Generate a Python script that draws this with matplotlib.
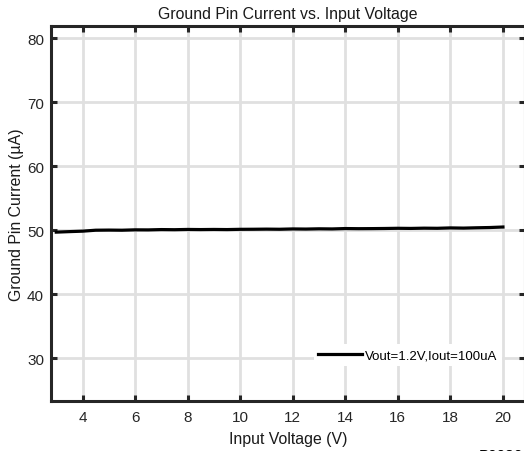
import matplotlib
matplotlib.use("Agg")
import matplotlib.pyplot as plt

plt.rcParams['font.family'] = ['Liberation Sans', 'DejaVu Sans']

# Data
vin = [3.0, 3.5, 4.0, 4.5, 5.0, 5.5, 6.0, 6.5, 7.0, 7.5, 8.0, 8.5, 9.0, 9.5, 10.0,
       10.5, 11.0, 11.5, 12.0, 12.5, 13.0, 13.5, 14.0, 14.5, 15.0, 15.5, 16.0, 16.5,
       17.0, 17.5, 18.0, 18.5, 19.0, 19.5, 20.0]
ignd = [49.70, 49.78, 49.85, 50.00, 50.02, 50.00, 50.06, 50.05, 50.10, 50.08, 50.12,
        50.10, 50.12, 50.10, 50.14, 50.15, 50.17, 50.15, 50.20, 50.18, 50.22, 50.20,
        50.26, 50.24, 50.25, 50.27, 50.30, 50.28, 50.32, 50.30, 50.36, 50.33, 50.38,
        50.42, 50.50]
series_label = "Vout=1.2V,Iout=100uA"
xticks = [4, 6, 8, 10, 12, 14, 16, 18, 20]
yticks = [30, 40, 50, 60, 70, 80]

W, H = 524, 452
fig = plt.figure(figsize=(W / 100, H / 100), dpi=100)
ax = fig.add_axes([51 / W, 1 - 401.5 / H, (525 - 51) / W, (401.5 - 27) / H])

ax.plot(vin, ignd, color='black', lw=2.3, label=series_label, zorder=3)

ax.set_xlim(2.8, 20.84)
ax.set_ylim(23.4, 81.9)
ax.set_xticks(xticks)
ax.set_yticks(yticks)
ax.grid(True, color='#e0e0e0', lw=2.0)
ax.set_axisbelow(True)
for s in ax.spines.values():
    s.set_linewidth(2.2)
    s.set_color('#262626')
ax.tick_params(direction='in', length=4, width=2.2, color='#262626',
               labelsize=11, top=True, right=True, labelcolor='#262626')
ax.tick_params(axis='x', pad=7)
ax.tick_params(axis='y', pad=5)

ax.set_title("Ground Pin Current vs. Input Voltage", fontsize=11.4, pad=5.5, color='#1a1a1a')
ax.set_xlabel("Input Voltage (V)", fontsize=11.4, labelpad=5, color='#1a1a1a')
ax.set_ylabel("Ground Pin Current (µA)", fontsize=11.4, labelpad=2.5, color='#1a1a1a')

leg = ax.legend(loc='center right', bbox_to_anchor=((502 - 51) / 474, (401.5 - 356) / 374.5),
                frameon=True, fancybox=False, edgecolor='none', facecolor='white',
                framealpha=1, fontsize=9.5, handlelength=3.3, handletextpad=0.25,
                borderpad=0.35, borderaxespad=0)

fig.text(479 / W, 1 - 449 / H, "P0036", fontsize=11, va='top', ha='left', color='black')

fig.savefig("out.png", dpi=100)
